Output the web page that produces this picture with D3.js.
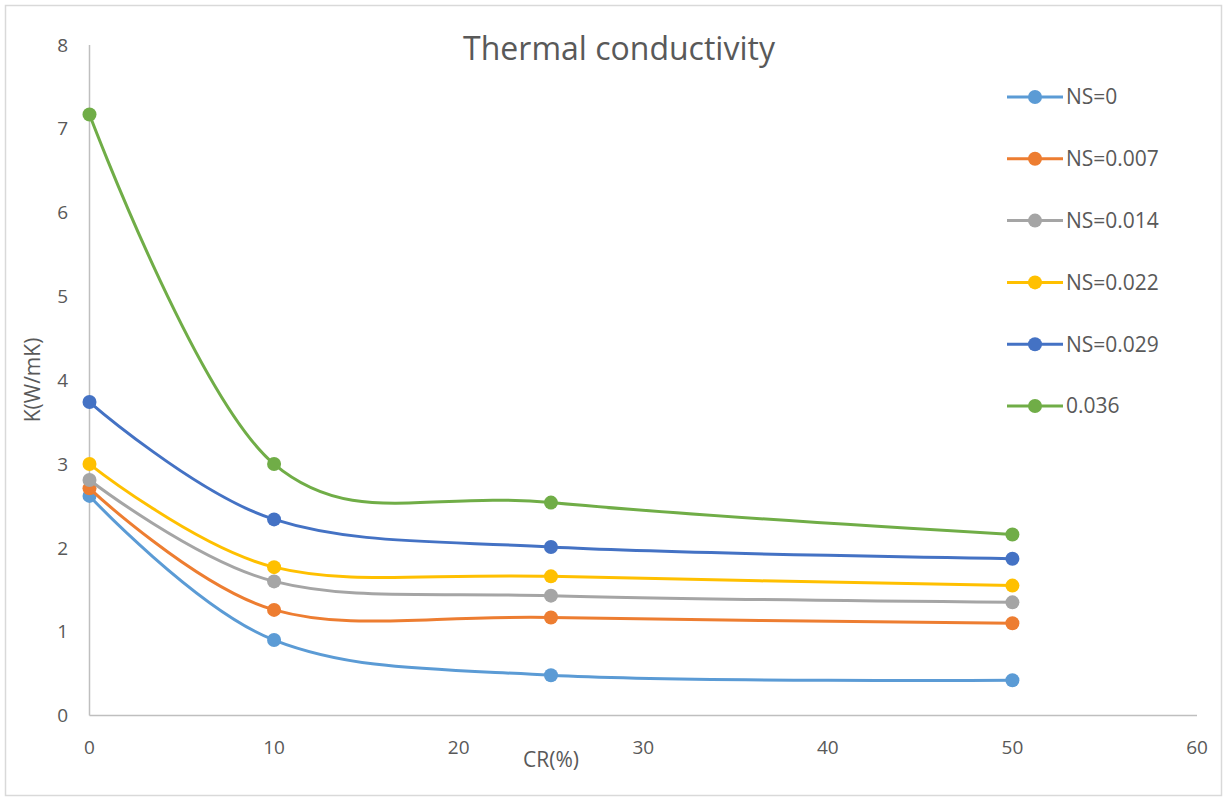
<!DOCTYPE html>
<html>
<head>
<meta charset="utf-8">
<script src="https://cdn.jsdelivr.net/npm/d3@7"></script>
<style>
  body { margin: 0; background: #fff; }
  text { font-family: "Open Sans", "Noto Sans", sans-serif; fill: #595959; }
</style>
</head>
<body>
<div id="chart"></div>
<script>
// data
var crValues = [0, 10, 25, 50];
var seriesNames = ["NS=0", "NS=0.007", "NS=0.014", "NS=0.022", "NS=0.029", "0.036"];
var ns0 = [2.62, 0.90, 0.48, 0.42];
var ns007 = [2.71, 1.26, 1.17, 1.10];
var ns014 = [2.81, 1.60, 1.43, 1.35];
var ns022 = [3.00, 1.77, 1.66, 1.55];
var ns029 = [3.74, 2.34, 2.01, 1.87];
var ns036 = [7.17, 3.00, 2.54, 2.16];
var xTicks = [0, 10, 20, 30, 40, 50, 60];
var yTicks = [0, 1, 2, 3, 4, 5, 6, 7, 8];

var colors = ["#5B9BD5", "#ED7D31", "#A5A5A5", "#FFC000", "#4472C4", "#70AD47"];
var allSeries = [ns0, ns007, ns014, ns022, ns029, ns036];

var W = 1225, H = 799;

var svg = d3.select("#chart")
    .append("svg")
    .attr("width", W)
    .attr("height", H);

// chart frame
svg.append("rect")
    .attr("x", 5.5).attr("y", 5.5)
    .attr("width", W - 9).attr("height", H - 9)
    .attr("fill", "#fff")
    .attr("stroke", "#D9D9D9")
    .attr("stroke-width", 1.5);

var x = d3.scaleLinear().domain([0, 60]).range([89.5, 1197]);
var y = d3.scaleLinear().domain([0, 8]).range([715.5, 45]);

// axes lines
svg.append("line")
    .attr("x1", x(0)).attr("x2", x(0))
    .attr("y1", y(8)).attr("y2", y(0))
    .attr("stroke", "#BFBFBF").attr("stroke-width", 1.5);
svg.append("line")
    .attr("x1", x(0)).attr("x2", x(60))
    .attr("y1", y(0)).attr("y2", y(0))
    .attr("stroke", "#BFBFBF").attr("stroke-width", 1.5);

// tick labels
svg.append("g").selectAll("text")
    .data(yTicks)
    .enter().append("text")
    .attr("x", 68)
    .attr("y", d => y(d))
    .attr("dy", "0.35em")
    .attr("text-anchor", "end")
    .style("font-size", "19px")
    .text(d => d);

svg.append("g").selectAll("text")
    .data(xTicks)
    .enter().append("text")
    .attr("x", d => x(d))
    .attr("y", 747)
    .attr("dy", "0.35em")
    .attr("text-anchor", "middle")
    .style("font-size", "19px")
    .text(d => d);

// titles
svg.append("text")
    .attr("x", 619).attr("y", 49)
    .attr("dy", "0.35em")
    .attr("text-anchor", "middle")
    .style("font-size", "32px")
    .text("Thermal conductivity");

svg.append("text")
    .attr("x", 551).attr("y", 760)
    .attr("dy", "0.35em")
    .attr("text-anchor", "middle")
    .style("font-size", "21px")
    .text("CR(%)");

svg.append("text")
    .attr("transform", "translate(33,380) rotate(-90)")
    .attr("dy", "0.35em")
    .attr("text-anchor", "middle")
    .style("font-size", "21px")
    .text("K(W/mK)");

// series
var line = d3.line()
    .x(d => x(d[0]))
    .y(d => y(d[1]))
    .curve(d3.curveCatmullRom.alpha(0));

allSeries.forEach(function(vals, i) {
    var pts = crValues.map((c, j) => [c, vals[j]]);
    var g = svg.append("g");
    g.append("path")
        .datum(pts)
        .attr("d", line)
        .attr("fill", "none")
        .attr("stroke", colors[i])
        .attr("stroke-width", 3);
    g.selectAll("circle")
        .data(pts)
        .enter().append("circle")
        .attr("cx", d => x(d[0]))
        .attr("cy", d => y(d[1]))
        .attr("r", 7)
        .attr("fill", colors[i]);
});

// legend
var legend = svg.append("g").selectAll("g")
    .data(seriesNames)
    .enter().append("g")
    .attr("transform", (d, i) => "translate(1007," + (97 + i * 61.8) + ")");

legend.append("line")
    .attr("x1", 0).attr("x2", 56)
    .attr("stroke", (d, i) => colors[i])
    .attr("stroke-width", 3);
legend.append("circle")
    .attr("cx", 28).attr("r", 7)
    .attr("fill", (d, i) => colors[i]);
legend.append("text")
    .attr("x", 59)
    .attr("dy", "0.35em")
    .style("font-size", "21px")
    .text(d => d);
</script>
</body>
</html>
